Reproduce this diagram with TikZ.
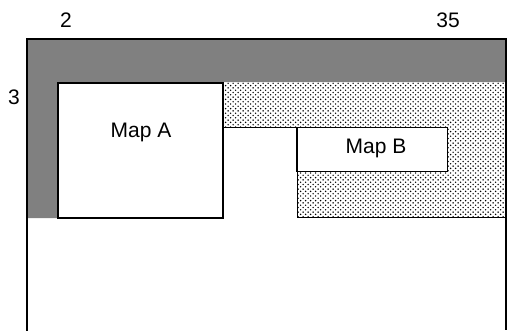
\documentclass[tikz,border=0pt]{standalone}
\usepackage{fontspec}
\setmainfont{Liberation Sans}
\usetikzlibrary{patterns}
\pgfdeclarepatternformonly{mydots}{\pgfqpoint{-1pt}{-1pt}}{\pgfqpoint{5pt}{5pt}}{\pgfqpoint{5pt}{4.6pt}}{%
  \pgfpathcircle{\pgfqpoint{0.6pt}{0.6pt}}{0.8pt}%
  \pgfpathcircle{\pgfqpoint{3.1pt}{2.9pt}}{0.8pt}%
  \pgfusepath{fill}}
\tikzset{
  txt/.style={font=\fontsize{21}{23}\selectfont, inner sep=0pt},
  mapbox/.style={draw=black, fill=white, rectangle, inner sep=0pt, line width=#1},
  grayfill/.style={fill=black!50},
  dotfill/.style={pattern=mydots, pattern color=black},
  frame/.style={line width=2.6pt, line cap=rect},
  edge/.style={line width=0.8pt}
}
\begin{document}
\begin{tikzpicture}[x=1pt,y=-1pt]
\useasboundingbox (0,0) rectangle (508,330);
% shaded L band
\fill[grayfill] (27,39) -- (506,39) -- (506,82) -- (57,82) -- (57,218) -- (27,218) -- cycle;
% dotted area
\fill[dotfill] (222,82) -- (506,82) -- (506,217) -- (297,217) -- (297,127) -- (222,127) -- cycle;
\draw[edge] (222,127) -- (297,127) -- (297,217) -- (506,217);
% maps
\node[mapbox=2pt, minimum width=165pt, minimum height=135pt, anchor=north west] (mapA) at (57,82) {};
\node[txt] (mapAtext) at (141,132) {Map A};
\node[mapbox=1pt, minimum width=150pt, minimum height=44pt, anchor=north west] (mapB) at (297,127) {};
\node[txt] (mapBtext) at (376,148) {Map B};
\draw[line width=2pt] (mapB.north west) -- (mapB.south west);
% frame
\draw[frame] (27,330) -- (27,39) -- (506,39);
\draw[line width=1.4pt] (506,39) -- (506,330);
% labels
\node[txt] (l2) at (66,20) {2};
\node[txt] (l35) at (448,20) {35};
\node[txt] (l3) at (14,97) {3};
\end{tikzpicture}
\end{document}
